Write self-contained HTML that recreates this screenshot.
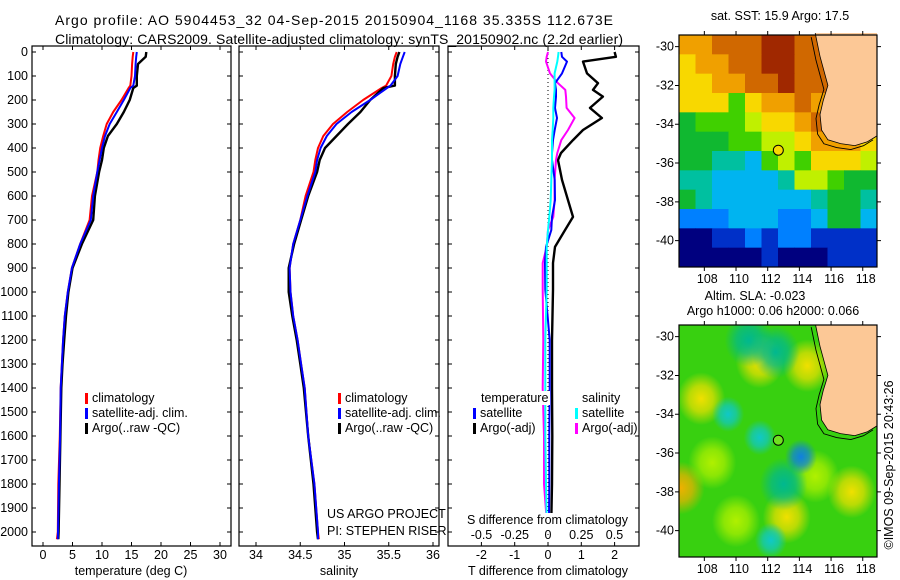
<!DOCTYPE html>
<html><head><meta charset="utf-8">
<style>
html,body{margin:0;padding:0;background:#fff;}
svg{display:block;font-family:"Liberation Sans",sans-serif;}
text{font-size:12.5px;fill:#000;}
</style></head>
<body>
<svg id="fig" width="900" height="580" viewBox="0 0 900 580" xmlns="http://www.w3.org/2000/svg">
<rect width="900" height="580" fill="#fff"/>
<text x="55" y="25" style="font-size:14px" textLength="558">Argo profile: AO 5904453_32 04-Sep-2015 20150904_1168 35.335S 112.673E</text>
<text x="55" y="44" style="font-size:14px" textLength="568">Climatology: CARS2009. Satellite-adjusted climatology: synTS_20150902.nc (2.2d earlier)</text>
<g id="g1"></g>
<g id="g2"></g>
<g id="g3"></g>
<g id="m1"></g>
<g id="m2"></g>
<text x="780" y="20" text-anchor="middle">sat. SST: 15.9 Argo: 17.5</text>
<text x="755" y="300" text-anchor="middle">Altim. SLA: -0.023</text>
<text x="773" y="315" text-anchor="middle">Argo h1000: 0.06 h2000: 0.066</text>
<text transform="translate(893,465) rotate(-90)" text-anchor="middle">©IMOS 09-Sep-2015 20:43:26</text>
</svg>
<script>
// ---- data ----
const depthT = [0,20,50,100,140,150,200,250,300,350,400,450,500,600,700,800,900,1000,1100,1200,1300,1400,1600,1800,2000,2030];
const argoTemp = [17.5,17.4,16.1,15.9,15.9,15.3,14.7,13.7,12.5,11.0,10.3,10.0,9.5,8.8,8.5,6.6,5.0,4.3,3.9,3.6,3.3,3.1,2.95,2.8,2.65,2.6];
const climTemp = [15.3,15.2,15.1,15.0,14.8,14.5,13.3,11.9,10.8,10.2,9.7,9.4,9.2,8.3,7.9,6.3,4.9,4.2,3.7,3.4,3.2,3.0,2.85,2.6,2.5,2.35];
const satTemp  = [15.9,15.8,15.7,15.6,15.3,14.8,13.7,12.5,11.3,10.5,10.0,9.6,9.2,8.5,8.1,6.3,4.9,4.2,3.7,3.4,3.2,3.0,2.9,2.7,2.55,2.5];
const argoSal = [35.62,35.60,35.58,35.57,35.57,35.44,35.29,35.18,35.04,34.91,34.78,34.72,34.69,34.59,34.51,34.43,34.37,34.37,34.41,34.46,34.50,34.54,34.59,34.65,34.69,34.70];
const climSal = [35.59,35.57,35.55,35.53,35.47,35.42,35.21,35.03,34.87,34.76,34.70,34.67,34.65,34.56,34.50,34.42,34.38,34.39,34.42,34.47,34.51,34.55,34.59,34.66,34.70,34.71];
const satSal  = [35.68,35.66,35.63,35.60,35.52,35.48,35.29,35.08,34.91,34.80,34.73,34.69,34.67,34.58,34.50,34.42,34.38,34.39,34.42,34.47,34.51,34.55,34.59,34.66,34.70,34.70];
const depthD = [0,20,40,89,130,158,186,233,275,325,367,421,450,533,617,687,742,812,879,990,1200,1400,1600,1800,1950];
const argoTdiff = [2.0,2.04,1.05,1.17,1.5,1.35,1.65,1.26,1.62,1.05,0.75,0.39,0.3,0.42,0.6,0.75,0.51,0.21,0.15,0.15,0.12,0.12,0.13,0.12,0.1];
const satTdiff  = [0.4,0.42,0.57,0.42,0.21,0.24,0.24,0.21,0.27,0.2,0.15,0.12,0.12,0.2,0.21,0.12,0.1,-0.06,-0.09,-0.08,0.05,0.05,0.04,0.04,0.03];
const argoSdiff = [0.0,-0.01,-0.015,0.015,0.075,0.13,0.135,0.14,0.2,0.15,0.1,0.07,0.06,0.05,0.05,0.04,0.0,-0.01,-0.04,-0.04,-0.035,-0.04,-0.03,-0.03,-0.01];
const satSdiff  = [0.08,0.075,0.07,0.05,0.05,0.05,0.045,0.04,0.04,0.035,0.03,0.03,0.03,0.025,0.02,0.01,0.0,-0.01,-0.01,-0.01,-0.02,-0.02,-0.02,-0.015,-0.01];
const depthTicks = [0,100,200,300,400,500,600,700,800,900,1000,1100,1200,1300,1400,1500,1600,1700,1800,1900,2000];
const tempTicks = [0,5,10,15,20,25,30];
const salTicks = [34,34.5,35,35.5,36];
const tdiffTicks = [-2,-1,0,1,2];
const sdiffTicks = [-0.5,-0.25,0,0.25,0.5];
const sdiffLabels = ["-0.5","-0.25","0","0.25","0.5"];
const latTicks = [-30,-32,-34,-36,-38,-40];
const lonTicks = [108,110,112,114,116,118];
const sstGrid = [
[9,9,10,10,10,11,11,10,10,10,10,10],
[8,9,9,10,10,11,11,10,10,10,10,10],
[8,8,9,9,10,10,11,10,10,10,10,10],
[8,8,8,6,8,9,9,10,9,10,10,10],
[5,6,6,6,7,8,8,9,10,9,9,9],
[5,5,5,6,6,7,7,8,9,9,9,8],
[5,5,4,4,3,6,7,6,8,8,8,7],
[4,4,3,3,3,3,4,7,7,6,5,5],
[5,4,3,3,3,3,3,3,4,5,5,4],
[2,2,2,3,3,3,2,2,3,5,5,3],
[0,0,1,1,2,1,2,2,1,1,1,1],
[0,0,0,0,0,1,0,0,0,1,1,1]];
const coastLon = [115.0,115.3,115.8,115.5,115.3,115.4,115.8,116.6,117.5,118.3,118.9];
const coastLat = [-29.3,-30.5,-32.0,-32.8,-33.5,-34.3,-34.8,-35.0,-35.1,-34.9,-34.6];
const slaSpotLon = [107.8,111.5,113.2,114.5,117.3,106.5,108.5,115.0,109.5,111.5,114.1,110.8,112.5,112.2,113.0,110.0];
const slaSpotLat = [-33.2,-31.3,-39.3,-31.5,-38.0,-37.8,-36.5,-37.2,-34.0,-35.2,-36.2,-30.2,-30.8,-40.5,-37.6,-39.5];
const slaSpotKind = [2,2,2,2,2,3,1,1,4,4,5,0,0,4,0,1];

// ---- helpers ----
const NS="http://www.w3.org/2000/svg";
function mk(parent,tag,attrs,txt){const e=document.createElementNS(NS,tag);for(const k in attrs)e.setAttribute(k,attrs[k]);if(txt!==undefined)e.textContent=txt;parent.appendChild(e);return e;}
const yD = d => 52 + d*0.24;
const PT=46, PB=546;

function panel(g, x0, x1, xs, ticks, labels, name){
  const f = mk(g,'rect',{x:x0,y:PT,width:x1-x0,height:PB-PT,fill:'none',stroke:'#000','stroke-width':1.2});
  
  
  depthTicks.forEach(d=>{
    const y=yD(d);
    const t=mk(g,'path',{d:`M${x0} ${y}h4M${x1} ${y}h-4`,stroke:'#000'});
    
    
  });
  ticks.forEach((v,i)=>{
    const x=xs(v);
    const t=mk(g,'path',{d:`M${x} ${PT}v4M${x} ${PB}v-4`,stroke:'#000'});
    
    
    if(labels){
      const l=mk(g,'text',{x:x,y:559,'text-anchor':'middle'},labels[i]);
      
      
    }
  });
}
function line(g,xs,vals,depths,color,w,name){
  const p=vals.map((v,i)=>`${i?'L':'M'}${xs(v).toFixed(1)} ${yD(depths[i]).toFixed(1)}`).join('');
  const e=mk(g,'path',{d:p,fill:'none',stroke:color,'stroke-width':w,'stroke-linejoin':'round'});
  
  
}
function legendItem(g,x,y,color,label,name,bgw){
  if(bgw){
    const b=mk(g,'rect',{x:x+6,y:y-11,width:bgw,height:14,fill:'#fff'});
    
    
  }
  const m=mk(g,'rect',{x:x,y:y-9,width:3,height:11,fill:color});
  
  
  const t=mk(g,'text',{x:x+7,y:y},label);
  
  
}

// depth labels
const g1=document.getElementById('g1');
depthTicks.forEach(d=>{
  const t=mk(g1,'text',{x:28,y:yD(d)+4,'text-anchor':'end'},String(d));
  
  
});

// panel 1: temperature
const xT = v => 43 + v*5.9;
panel(g1,32,231,xT,tempTicks,tempTicks.map(String),'temperature');
line(g1,xT,climTemp,depthT,'#ff0000',2,'temp-climatology-line');
line(g1,xT,argoTemp,depthT,'#000000',2.4,'temp-argo-line');
line(g1,xT,satTemp,depthT,'#0000ff',2,'temp-satellite-line');
legendItem(g1,85,402,'#ff0000','climatology','legend-climatology');
legendItem(g1,85,417,'#0000ff','satellite-adj. clim.','legend-satellite');
legendItem(g1,85,432,'#000000','Argo(..raw -QC)','legend-argo');
let t1=mk(g1,'text',{x:131,y:575,'text-anchor':'middle'},'temperature (deg C)');



// panel 2: salinity
const g2=document.getElementById('g2');
const xS = v => 256 + (v-34)*88.5;
panel(g2,239,439,xS,salTicks,salTicks.map(String),'salinity');
line(g2,xS,climSal,depthT,'#ff0000',2,'sal-climatology-line');
line(g2,xS,argoSal,depthT,'#000000',2.4,'sal-argo-line');
line(g2,xS,satSal,depthT,'#0000ff',2,'sal-satellite-line');
legendItem(g2,338,402,'#ff0000','climatology','legend-climatology');
legendItem(g2,338,417,'#0000ff','satellite-adj. clim.','legend-satellite');
legendItem(g2,338,432,'#000000','Argo(..raw -QC)','legend-argo');
let s1=mk(g2,'text',{x:327,y:518},'US ARGO PROJECT');


let s2=mk(g2,'text',{x:327,y:535},'PI: STEPHEN RISER');


let t2=mk(g2,'text',{x:339,y:575,'text-anchor':'middle'},'salinity');



// panel 3: differences
const g3=document.getElementById('g3');
const xTd = v => 548 + v*33.3;
const xSd = v => 548 + v*133;
panel(g3,448,639,xTd,tdiffTicks,tdiffTicks.map(String),'difference');
let zl=mk(g3,'line',{x1:548,y1:PT,x2:548,y2:PB,stroke:'#000','stroke-dasharray':'1 3'});


line(g3,xTd,argoTdiff,depthD,'#000000',2.4,'tdiff-argo-line');
line(g3,xSd,argoSdiff,depthD,'#ff00ff',2,'sdiff-argo-line');
line(g3,xTd,satTdiff,depthD,'#0000ff',2,'tdiff-satellite-line');
line(g3,xSd,satSdiff,depthD,'#00ffff',2,'sdiff-satellite-line');
let lbg=mk(g3,'rect',{x:480,y:391,width:70,height:14,fill:'#fff'});


let lt=mk(g3,'text',{x:481,y:402},'temperature');


let ls=mk(g3,'text',{x:582,y:402},'salinity');


legendItem(g3,473,417,'#0000ff','satellite','legend-t-satellite',52);
legendItem(g3,473,432,'#000000','Argo(-adj)','legend-t-argo',60);
legendItem(g3,575,417,'#00ffff','satellite','legend-s-satellite');
legendItem(g3,575,432,'#ff00ff','Argo(-adj)','legend-s-argo');
let sdbg=mk(g3,'rect',{x:466,y:513,width:164,height:14,fill:'#fff'});


let sd=mk(g3,'text',{x:467,y:524},'S difference from climatology');


sdiffTicks.forEach((v,i)=>{
  const t=mk(g3,'text',{x:xSd(v),y:539,'text-anchor':'middle'},sdiffLabels[i]);
  
  
});
let td=mk(g3,'text',{x:548,y:575,'text-anchor':'middle'},'T difference from climatology');



// ---- maps ----
const MX0=679, MX1=877, LON0=106.4, LON1=118.9;
const mx = lon => MX0 + (lon-LON0)*(MX1-MX0)/(LON1-LON0);
function mapY(top){
  const LAT0=-29.4, ppd=19.4;
  return lat => top + (LAT0-lat)*ppd;
}
const sstPal=['#00007f','#0030c8','#0080ff','#00b4f0','#00c0a0','#10b830','#40d000','#c0f000','#f8d800','#f0a000','#d06800','#a02800'];
function drawLand(g,my,name){
  const pts=coastLon.map((l,i)=>`${mx(l).toFixed(1)},${my(coastLat[i]).toFixed(1)}`);
  const poly=mk(g,'polygon',{points:pts.join(' ')+` ${MX1},${my(-29.3)}`,fill:'#fcc896'});
  
  
  const c=coastLon.map((l,i)=>`${i?'L':'M'}${(mx(l)-4).toFixed(1)} ${(my(coastLat[i])+4).toFixed(1)}`).join('');
  const cl=mk(g,'path',{d:c,fill:'none',stroke:'#000','stroke-width':0.9});
  
  
  const c2=coastLon.map((l,i)=>`${i?'L':'M'}${mx(l).toFixed(1)} ${my(coastLat[i]).toFixed(1)}`).join('');
  const cc=mk(g,'path',{d:c2,fill:'none',stroke:'#000','stroke-width':0.8});
  
  
}
function axes(g,top,my,name){
  const bot=top+232;
  latTicks.forEach(l=>{
    const y=my(l);
    const t=mk(g,'path',{d:`M${MX0} ${y}h-4M${MX1} ${y}h4`,stroke:'#000'});
    
    
    const tx=mk(g,'text',{x:674,y:y+4,'text-anchor':'end'},String(l));
    
    
  });
  lonTicks.forEach(l=>{
    const x=mx(l);
    const t=mk(g,'path',{d:`M${x} ${top}v-4M${x} ${bot}v4`,stroke:'#000'});
    
    
    const tx=mk(g,'text',{x:x+3,y:bot+16,'text-anchor':'middle'},String(l));
    
    
  });
  const f=mk(g,'rect',{x:MX0,y:top,width:MX1-MX0,height:232,fill:'none',stroke:'#000','stroke-width':1.2});
  
  
}
// map 1
const m1=document.getElementById('m1');
const my1=mapY(35);
const cw=(MX1-MX0)/12, ch=232/12;
sstGrid.forEach((row,r)=>row.forEach((v,c)=>{
  const e=mk(m1,'rect',{x:MX0+c*cw,y:35+r*ch,width:cw+0.5,height:ch+0.5,fill:sstPal[v]});
  
  
}));
drawLand(m1,my1,'sst-map');
const a1=mk(m1,'circle',{cx:mx(112.67),cy:my1(-35.34),r:5,fill:'#f8d800',stroke:'#000'});


axes(m1,35,my1,'sst-map');
// map 2
const m2=document.getElementById('m2');
const my2=mapY(325);
const defs=mk(m2,'defs',{});
const spotCols=['#00b890','#b0f000','#f0e000','#f0b000','#10c8c8','#1080e0'];
spotCols.forEach((c,i)=>{
  const rg=mk(defs,'radialGradient',{id:'sp'+i});
  mk(rg,'stop',{offset:'0','stop-color':c,'stop-opacity':1});
  mk(rg,'stop',{offset:'0.5','stop-color':c,'stop-opacity':0.7});
  mk(rg,'stop',{offset:'1','stop-color':c,'stop-opacity':0});
});
const cp=mk(defs,'clipPath',{id:'clip2'});
mk(cp,'rect',{x:MX0,y:325,width:MX1-MX0,height:232});
const m2in=mk(m2,'g',{'clip-path':'url(#clip2)'});
const bg=mk(m2in,'rect',{x:MX0,y:325,width:MX1-MX0,height:232,fill:'#38d010'});


slaSpotLon.forEach((l,i)=>{
  const k=slaSpotKind[i];
  const r=(k>=4)?16:24;
  const e=mk(m2in,'ellipse',{cx:mx(l),cy:my2(slaSpotLat[i]),rx:r,ry:r*1.1,fill:`url(#sp${k})`});
  
  
});
drawLand(m2in,my2,'sla-map');
const a2=mk(m2,'circle',{cx:mx(112.67),cy:my2(-35.34),r:5,fill:'#70e020',stroke:'#000'});


axes(m2,325,my2,'sla-map');
</script>
</body></html>
